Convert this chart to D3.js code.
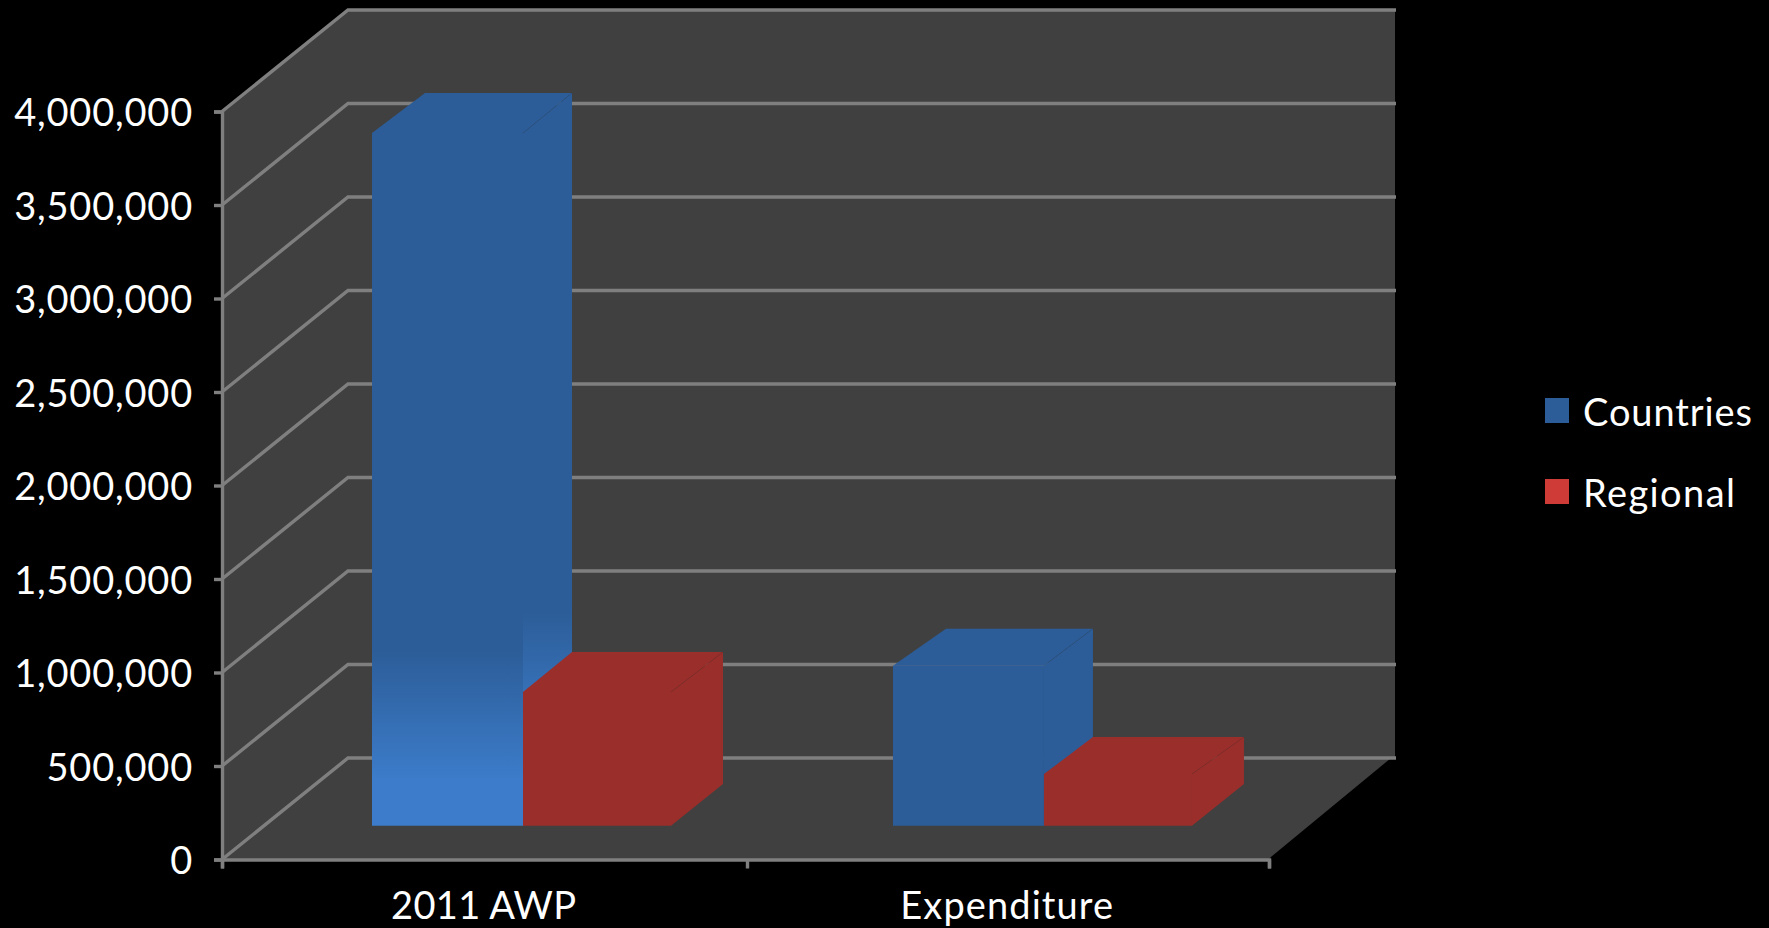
<!DOCTYPE html>
<html>
<head>
<meta charset="utf-8">
<script src="https://cdnjs.cloudflare.com/ajax/libs/d3/7.8.5/d3.min.js"></script>
<style>
  html, body { margin: 0; padding: 0; background: #000; overflow: hidden; }
  text { font-family: Lato, "Open Sans", sans-serif; fill: #fff; }
</style>
</head>
<body>
<div id="plot"></div>
<script>
const categories = ["2011 AWP", "Expenditure"];
const seriesNames = ["Countries", "Regional"];
const countries = [3704000, 856000];
const regional = [715000, 276000];
const yTicks = [0, 500000, 1000000, 1500000, 2000000, 2500000, 3000000, 3500000, 4000000];

const w = 1769;
const h = 928;
const wallX = 126, wallY = 101.5;   // how far the back wall sits from the front axes
const gridColor = "#7f7f7f";
const wallColor = "#404040";

const svg = d3.select("#plot").append("svg").attr("width", w).attr("height", h);
const defs = svg.append("defs");

const yScale = d3.scaleLinear().domain([0, 4000000]).range([859.5, 111.5]);
const xScale = d3.scaleBand().domain(categories).range([222, 1269]);
const xEdge = d3.scaleLinear().domain([0, 1, 2]).range([222, 747, 1269]);

// bar groups, measured on the front and the back of the boxes
const groupX = d3.scaleBand().domain(categories).range([372, 1192]).paddingInner(0.426);
const seriesFront = d3.scaleLinear().domain([0, 1, 2]).range([0, 151, 299]);
const seriesBack = d3.scaleLinear().domain([0, 1, 2]).range([53, 200, 351]);
const baseFront = 33.8, baseBack = 75.5;
const topDepth = [40, 37];

//-------------walls and floor------------------------
const poly = (pts, fill) => svg.append("polygon")
  .attr("points", pts.map(p => p.join(",")).join(" "))
  .attr("fill", fill);

const x0 = xScale.range()[0], x1 = xScale.range()[1];
const yTop = yScale(4000000), yZero = yScale(0);
poly([[x0, yTop], [x0 + wallX, yTop - wallY], [x0 + wallX, yZero - wallY], [x0, yZero]], wallColor);
poly([[x0 + wallX, yTop - wallY], [x1 + wallX, yTop - wallY], [x1 + wallX, yZero - wallY], [x0 + wallX, yZero - wallY]], wallColor);
poly([[x0, yZero], [x1 - 1, yZero], [x1 + wallX - 4, yZero - wallY], [x0 + wallX, yZero - wallY]], wallColor);

//-------------grid------------------------
const grid = svg.append("g").attr("fill", "none").attr("stroke", gridColor).attr("stroke-width", 3.4);
yTicks.forEach(t => {
  grid.append("polyline")
    .attr("points", [
      [x0, yScale(t)],
      [x0 + wallX, yScale(t) - wallY],
      [x1 + wallX + 1, yScale(t) - wallY]
    ].map(p => p.join(",")).join(" "));
});

//-------------axes------------------------
const yAxis = d3.axisLeft(yScale).tickValues(yTicks).tickFormat(d3.format(",")).tickSize(8).tickPadding(21);
const yG = svg.append("g").attr("transform", "translate(222,0)").call(yAxis);
yG.select(".domain").attr("stroke", gridColor).attr("stroke-width", 3.4);
yG.selectAll(".tick line").attr("stroke", gridColor).attr("stroke-width", 3.4);
yG.selectAll("text").attr("font-size", 38).attr("font-family", null).attr("dy", "0.37em")
  .attr("fill", "#fff").attr("letter-spacing", 0.8);

const xAxis = d3.axisBottom(xEdge).tickValues([0, 1, 2]).tickFormat("").tickSize(9);
const xG = svg.append("g").attr("transform", "translate(0,859.5)").call(xAxis);
xG.select(".domain").attr("stroke", gridColor).attr("stroke-width", 3.4);
xG.selectAll(".tick line").attr("stroke", gridColor).attr("stroke-width", 3.4);

const catSpacing = [0.3, 1.1];
svg.selectAll(".cat")
  .data(categories)
  .enter()
  .append("text")
  .attr("class", "cat")
  .attr("x", d => xScale(d) + xScale.bandwidth() / 2)
  .attr("y", 919)
  .attr("text-anchor", "middle")
  .attr("font-size", 38)
  .attr("letter-spacing", (d, i) => catSpacing[i])
  .text(d => d);

//-------------bars------------------------
function fade(id, y1, y2) {
  const g = defs.append("linearGradient").attr("id", id)
    .attr("gradientUnits", "userSpaceOnUse")
    .attr("x1", 0).attr("x2", 0).attr("y1", y1).attr("y2", y2);
  g.append("stop").attr("offset", 0).attr("stop-color", "#2c5d98");
  g.append("stop").attr("offset", 1).attr("stop-color", "#3c7cca");
}
fade("fadeFront", 650, 780);
fade("fadeSide", 612, 742);

function box(cat, catIdx, idx, value, color, frontFill, sideFill) {
  const left = groupX(cat);
  const fl = left + seriesFront(idx), fr = left + seriesFront(idx + 1);
  const bl = left + seriesBack(idx), br = left + seriesBack(idx + 1);
  const fBase = yZero - baseFront, bBase = yZero - baseBack;
  const fTop = yScale(value) - baseFront, bTop = fTop - topDepth[catIdx];
  poly([[fl, fTop], [fr, fTop], [br, bTop], [bl, bTop]], color);
  poly([[fr, fTop], [br, bTop], [br, bBase], [fr, fBase]], sideFill || color);
  poly([[fl, fTop], [fr, fTop], [fr, fBase], [fl, fBase]], frontFill || color);
  svg.append("line")
    .attr("x1", fr).attr("y1", fTop).attr("x2", br).attr("y2", bTop)
    .attr("stroke", "#000").attr("stroke-opacity", 0.08).attr("stroke-width", 1);
}

const blue = "#2c5d98", red = "#9a2e2b";
categories.forEach((c, i) => {
  box(c, i, 0, countries[i], blue, i === 0 ? "url(#fadeFront)" : null, i === 0 ? "url(#fadeSide)" : null);
  box(c, i, 1, regional[i], red);
});

//-------------legend------------------------
const legendColors = [blue, "#cf3b37"];
const legendSpacing = [0.9, 1.4];
const legendY = d3.scalePoint().domain(seriesNames).range([398, 479]);
const legend = svg.append("g").attr("id", "legend");
legend.selectAll("rect")
  .data(seriesNames)
  .enter()
  .append("rect")
  .attr("x", 1545)
  .attr("y", d => legendY(d))
  .attr("width", 24)
  .attr("height", 25)
  .attr("fill", (d, i) => legendColors[i]);
legend.selectAll("text")
  .data(seriesNames)
  .enter()
  .append("text")
  .attr("x", 1583)
  .attr("y", d => legendY(d) + 28)
  .attr("font-size", 38)
  .attr("letter-spacing", (d, i) => legendSpacing[i])
  .text(d => d);
</script>
</body>
</html>
